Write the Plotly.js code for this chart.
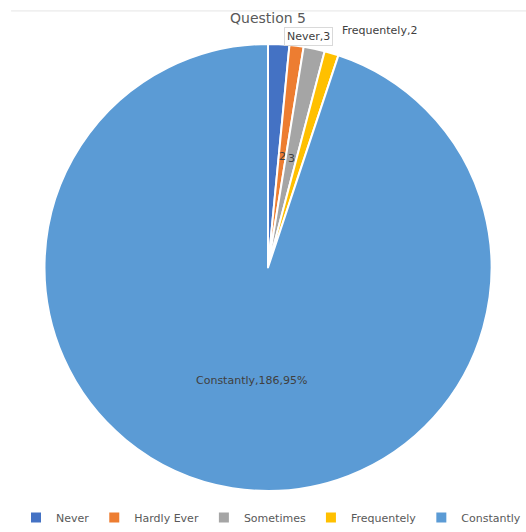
<!DOCTYPE html>
<html>
<head>
<meta charset="utf-8">
<script src="https://cdn.plot.ly/plotly-3.0.1.min.js"></script>
<style>html,body{margin:0;padding:0;background:#fff;}</style>
</head>
<body>
<div id="chart" style="width:526px;height:532px;"></div>
<script>
const categories = ["Never", "Hardly Ever", "Sometimes", "Frequentely", "Constantly"];
const values = [3, 2, 3, 2, 186];
const colors = ["#4472C4", "#ED7D31", "#A5A5A5", "#FFC000", "#5B9BD5"];

const FONT = "'DejaVu Sans', Verdana, sans-serif";
const total = values.reduce((a, b) => a + b, 0);

// label text for each slice, built from the data
const labelText = categories.map((c, i) => {
  if (i === 4) return c + "," + values[i] + "," + Math.round(values[i] / total * 100) + "%";
  if (i === 0 || i === 3) return c + "," + values[i];
  return String(values[i]);
});

// label placement (layout only), paper coordinates
const labelPos = [
  { x: 0.5856, y: 1.016, box: true },
  { x: 0.538, y: 0.748 },
  { x: 0.555, y: 0.743 },
  { x: 0.7224, y: 1.031 },
  { x: 0.479, y: 0.248 }
];

const trace = {
  type: "pie",
  labels: categories,
  values: values,
  sort: false,
  direction: "clockwise",
  rotation: 0,
  domain: { x: [44 / 526, 492 / 526], y: [0, 1] },
  marker: { colors: colors, line: { color: "#ffffff", width: 2 } },
  textinfo: "none",
  hoverinfo: "label+value+percent",
  showlegend: true
};

const annotations = labelText.map((t, i) => ({
  xref: "paper", yref: "paper",
  x: labelPos[i].x, y: labelPos[i].y,
  xanchor: "center", yanchor: "middle",
  text: t, showarrow: false,
  font: { family: FONT, size: 11, color: "#404040" },
  bgcolor: labelPos[i].box ? "#ffffff" : "rgba(0,0,0,0)",
  bordercolor: labelPos[i].box ? "#d9d9d9" : "rgba(0,0,0,0)",
  borderwidth: labelPos[i].box ? 1 : 0,
  borderpad: 2
}));

const layout = {
  width: 526,
  height: 532,
  margin: { l: 0, r: 0, t: 44, b: 40 },
  paper_bgcolor: "#ffffff",
  title: {
    text: "Question 5",
    font: { family: FONT, size: 14, color: "#595959" },
    x: 0.5095, xanchor: "center", y: 0.966, yanchor: "middle"
  },
  legend: {
    orientation: "h",
    x: 0.5285, xanchor: "center",
    y: -0.06, yanchor: "middle",
    font: { family: FONT, size: 11, color: "#595959" },
    itemwidth: 30,
    tracegroupgap: 0
  },
  annotations: annotations,
  shapes: [{
    type: "line", xref: "paper", yref: "paper",
    x0: 0.021, x1: 1, y0: 1.074, y1: 1.074,
    line: { color: "#e6e6e6", width: 1 }
  }]
};

Plotly.newPlot("chart", [trace], layout, { displayModeBar: false, staticPlot: true });
</script>
</body>
</html>
